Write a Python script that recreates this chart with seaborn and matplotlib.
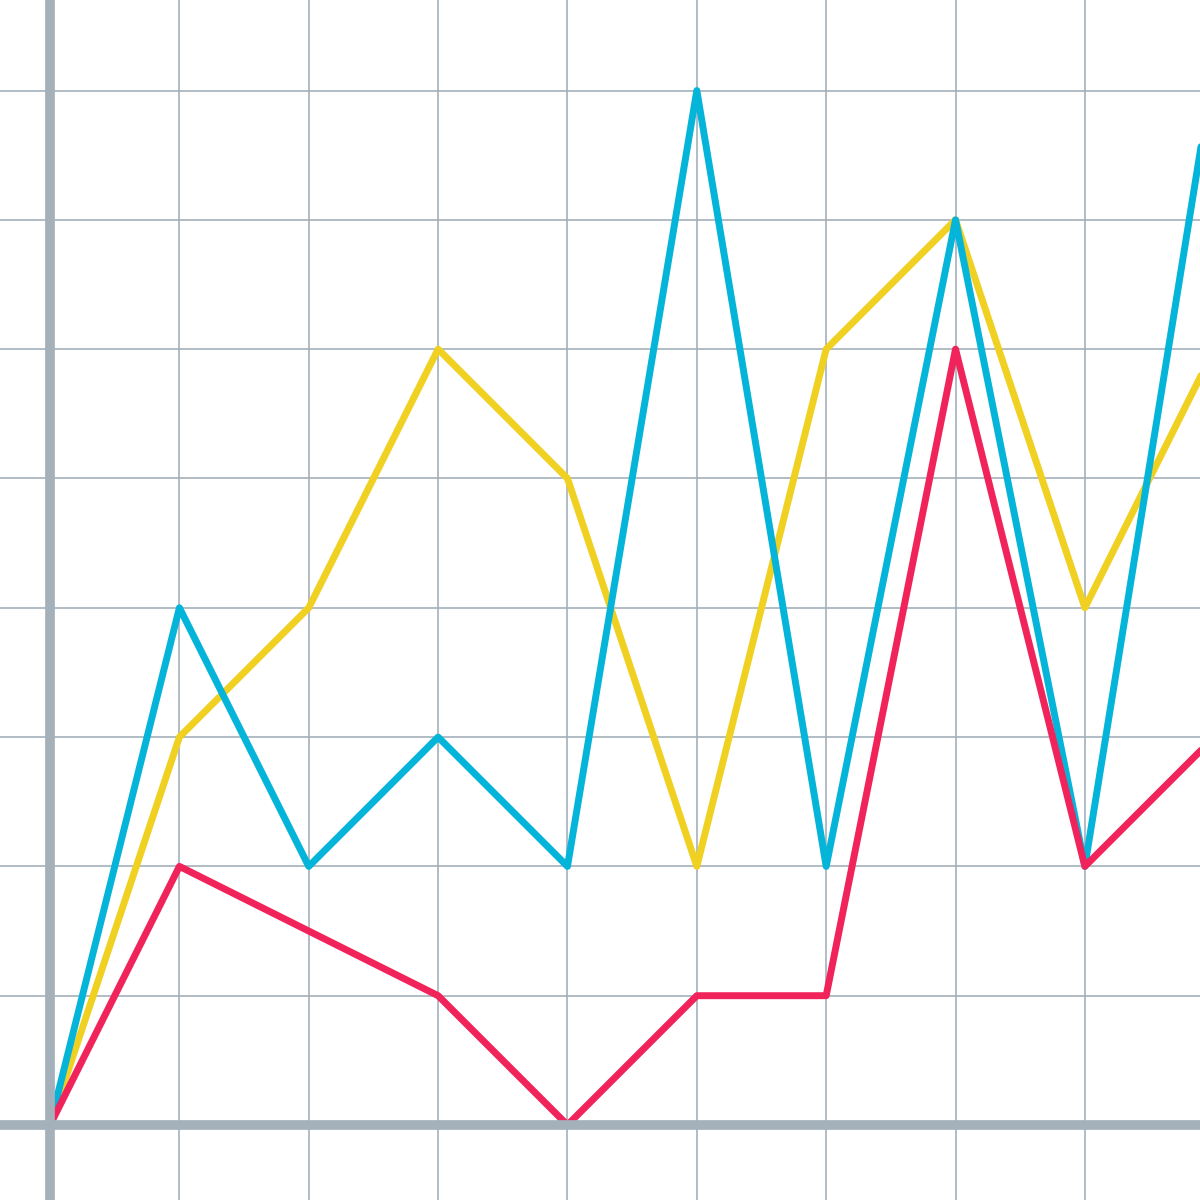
import numpy as np
import pandas as pd
import matplotlib
matplotlib.use("Agg")
import matplotlib.pyplot as plt
import seaborn as sns
from matplotlib.ticker import MultipleLocator

x = list(range(10))
red = [0, 2, 1.5, 1, 0, 1, 1, 6, 2, 3]
yellow = [0, 3, 4, 6, 5, 2, 6, 7, 4, 6]
blue = [0, 4, 2, 3, 2, 8, 2, 7, 2, 8.2]

df = pd.DataFrame({
    "x": x * 3,
    "y": red + yellow + blue,
    "series": ["red"] * 10 + ["yellow"] * 10 + ["blue"] * 10,
})
palette = {"red": "#F0245A", "yellow": "#F0D021", "blue": "#05B4D9"}
GRAY = "#A4B0BA"

sns.set_style("white")
fig = plt.figure(figsize=(12, 12), dpi=100)
ax = fig.add_axes([0, 0, 1, 1])
sns.lineplot(data=df, x="x", y="y", hue="series", palette=palette,
             hue_order=["yellow", "blue", "red"], linewidth=5,
             legend=False, ax=ax, zorder=3)

ax.set_xlim(-0.387, 8.89)
ax.set_ylim(-0.58, 8.70)
ax.xaxis.set_major_locator(MultipleLocator(1))
ax.yaxis.set_major_locator(MultipleLocator(1))
ax.xaxis.set_minor_locator(MultipleLocator(0.5))
ax.yaxis.set_minor_locator(MultipleLocator(0.5))
ax.grid(True, which="major", color=GRAY, linewidth=1.2, zorder=0)

for s in ["top", "right"]:
    ax.spines[s].set_visible(False)
ax.spines["left"].set_position(("data", 0))
ax.spines["bottom"].set_position(("data", 0))
for s in ["left", "bottom"]:
    ax.spines[s].set_color(GRAY)
    ax.spines[s].set_linewidth(7)
    ax.spines[s].set_zorder(4)

ax.tick_params(axis="y", which="major", direction="out", length=36, width=3, color=GRAY)
ax.tick_params(axis="y", which="minor", direction="out", length=28, width=3, color=GRAY)
ax.tick_params(axis="x", which="major", direction="out", length=50, width=3, color=GRAY)
ax.tick_params(axis="x", which="minor", direction="out", length=34, width=3, color=GRAY)
ax.set_xticklabels([])
ax.set_yticklabels([])
ax.set_xlabel("")
ax.set_ylabel("")

fig.savefig("out.png", dpi=100)
